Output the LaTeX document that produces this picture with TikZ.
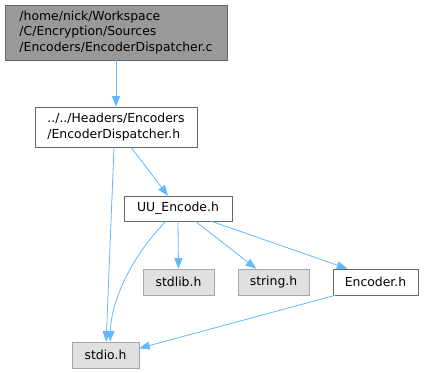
\documentclass[tikz,border=0pt]{standalone}
\usepackage{fontspec}
\setmainfont{DejaVu Sans}
\usetikzlibrary{arrows.meta}
\definecolor{incblue}{HTML}{63B8FF}
\definecolor{boxgrey}{HTML}{999999}
\definecolor{sysgrey}{HTML}{E0E0E0}

\begin{document}
\begin{tikzpicture}[x=0.75pt,y=-0.75pt,
    every node/.style={font=\fontsize{9.3}{11.8}\selectfont, inner sep=0pt, align=left},
    srcfile/.style={draw=black!60, fill=boxgrey},
    hdrfile/.style={draw=black!60, fill=white},
    sysfile/.style={draw=black!35, fill=sysgrey},
    incl/.style={incblue, semithick, -{Triangle[length=8pt,width=6pt]}}]
  \useasboundingbox (0,0) rectangle (424,373);

  % include graph, top to bottom
  \node[srcfile, minimum width=166.5pt, minimum height=41.25pt] (src) at (116,32.5)
    {/home/nick/Workspace\\/C/Encryption/Sources\\/Encoders/EncoderDispatcher.c};
  \node[hdrfile, minimum width=121.5pt, minimum height=30pt] (disp) at (116,127)
    {../../Headers/Encoders\\/EncoderDispatcher.h};
  \node[hdrfile, minimum width=81pt, minimum height=18.75pt] (uu) at (178,208.5) {UU\_Encode.h};
  \node[sysfile, minimum width=53.25pt, minimum height=19.5pt] (stdlib) at (178.5,282) {stdlib.h};
  \node[sysfile, minimum width=53.25pt, minimum height=19.5pt] (string) at (273.5,282) {string.h};
  \node[hdrfile, minimum width=63.75pt, minimum height=19.5pt] (enc) at (375.5,282) {Encoder.h};
  \node[sysfile, minimum width=50pt, minimum height=19.5pt] (stdio) at (105.5,355) {stdio.h};

  % edges
  \draw[incl] (src) -- (disp);
  \draw[incl] ([xshift=-1.5pt]disp.south) -- ([xshift=0.5pt]stdio.north);
  \draw[incl] ([xshift=11.25pt]disp.south) -- ([xshift=-7.5pt]uu.north);
  \draw[incl] ([xshift=-9pt]uu.south) .. controls +(-30,30) and +(1,-45) .. ([xshift=3.5pt]stdio.north);
  \draw[incl] (uu.south) -- (stdlib.north);
  \draw[incl] ([xshift=13pt]uu.south) -- ([xshift=-13pt]string.north);
  \draw[incl] ([xshift=25pt]uu.south) -- ([xshift=-21pt]enc.north);
  \draw[incl] ([xshift=2pt]enc.south west) -- ([yshift=5pt]stdio.east);
\end{tikzpicture}
\end{document}
